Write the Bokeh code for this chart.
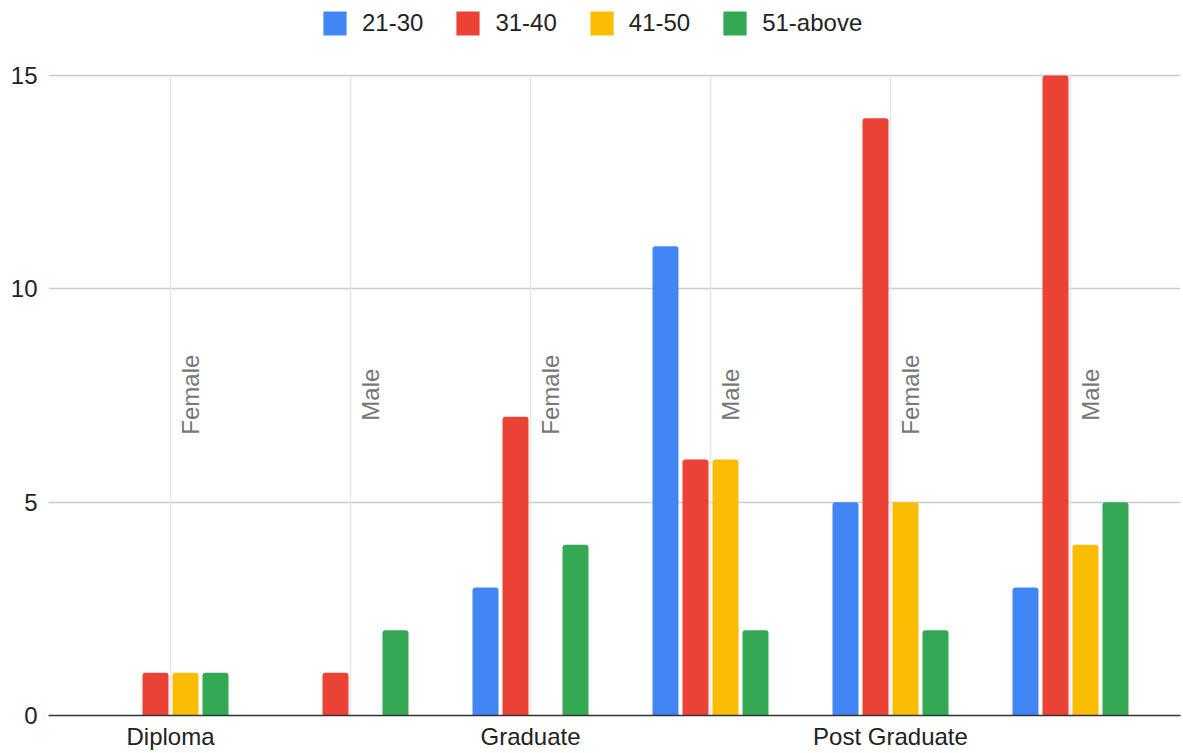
import math

from bokeh.core.properties import value
from bokeh.embed import file_html
from bokeh.models import ColumnDataSource, FixedTicker, Legend, LegendItem, Range1d
from bokeh.plotting import figure
from bokeh.resources import INLINE
from bokeh.transform import dodge

# Respondent counts by education level, gender and age band
education = ["Diploma", "Diploma", "Graduate", "Graduate", "Post Graduate", "Post Graduate"]
gender = ["Female", "Male", "Female", "Male", "Female", "Male"]
age_groups = ["21-30", "31-40", "41-50", "51-above"]
age_21_30 = [0, 0, 3, 11, 5, 3]
age_31_40 = [1, 1, 7, 6, 14, 15]
age_41_50 = [1, 0, 0, 6, 5, 4]
age_51_above = [1, 2, 4, 2, 2, 5]
y_ticks = [0, 5, 10, 15]

series = [age_21_30, age_31_40, age_41_50, age_51_above]
colors = ["#4285F4", "#EA4335", "#FBBC04", "#34A853"]

FONT = "Liberation Sans"
FONT_SIZE = "24px"
group_x = list(range(len(gender)))
y_top = max(y_ticks)

data = {"x": group_x, "gender": gender}
for name, vals in zip(age_groups, series):
    data[name] = vals
source = ColumnDataSource(data)

# The frame reaches the top of the canvas so the legend can sit above the
# top grid line; the value scale is 640 px per 15 units.
px_per_unit = 640 / 15
p = figure(
    width=1183,
    height=753,
    output_backend="svg",
    toolbar_location=None,
    x_range=Range1d(-0.6778, 5.6111),
    y_range=Range1d(0, y_top + 75 / px_per_unit),
    min_border_left=48,
    min_border_right=3,
    min_border_top=0,
    min_border_bottom=38,
    outline_line_color=None,
    background_fill_color="white",
    border_fill_color="white",
)

# horizontal grid at value ticks
p.ygrid.ticker = FixedTicker(ticks=y_ticks)
p.ygrid.grid_line_color = "#cccccc"
p.ygrid.grid_line_width = 1.5
p.xgrid.grid_line_color = None

# vertical guide through each gender subgroup, up to the top grid line
p.segment(x0="x", y0=0, x1="x", y1=y_top, source=source,
          line_color="#e6e6e6", line_width=1.5)

# y axis: labels only
p.yaxis.ticker = FixedTicker(ticks=y_ticks)
p.yaxis.axis_line_color = None
p.yaxis.major_tick_line_color = None
p.yaxis.minor_tick_line_color = None
p.yaxis.major_tick_out = 0
p.yaxis.major_tick_in = 0
p.yaxis.major_label_standoff = 11
p.yaxis.major_label_text_font = FONT
p.yaxis.major_label_text_font_size = FONT_SIZE
p.yaxis.major_label_text_color = "#222222"

# x axis: dark baseline with education level under its first subgroup
edu_ticks = [i for i in group_x if i == 0 or education[i] != education[i - 1]]
p.xaxis.ticker = FixedTicker(ticks=edu_ticks)
p.xaxis.major_label_overrides = {i: education[i] for i in edu_ticks}
p.xaxis.axis_line_color = "#333333"
p.xaxis.axis_line_width = 1.6
p.xaxis.major_tick_line_color = None
p.xaxis.minor_tick_line_color = None
p.xaxis.major_tick_out = 0
p.xaxis.major_tick_in = 0
p.xaxis.major_label_standoff = 7
p.xaxis.major_label_text_font = FONT
p.xaxis.major_label_text_font_size = FONT_SIZE
p.xaxis.major_label_text_color = "#222222"

# rotated gender labels beside each subgroup's guide line
p.text(
    x="x", y=7.52, text="gender", source=source,
    angle=math.pi / 2, x_offset=20,
    text_align="center", text_baseline="middle",
    text_font=value(FONT), text_font_size=FONT_SIZE, text_color="#777777",
)

offsets = [-0.25, -1 / 12, 1 / 12, 0.25]
bar_width = 26 / 180
items = []
for name, color, off in zip(age_groups, colors, offsets):
    r = p.vbar(
        x=dodge("x", off, range=p.x_range), top=name, bottom=0, width=bar_width,
        source=source, fill_color=color, line_color=None,
        border_radius=(3, 3, 0, 0),
    )
    items.append(LegendItem(label=name, renderers=[r]))

# legend swatches are drawn inset by 10% of the glyph box on each side
legend = Legend(
    items=items,
    orientation="horizontal",
    location=(272, 677),
    glyph_width=29,
    glyph_height=30,
    label_height=30,
    label_standoff=13,
    spacing=30,
    padding=0,
    margin=0,
    border_line_color=None,
    background_fill_alpha=0,
    label_text_font=FONT,
    label_text_font_size=FONT_SIZE,
    label_text_color="#222222",
    label_text_baseline="middle",
)
p.add_layout(legend, "center")

open("out.html", "w").write(file_html(p, INLINE))
